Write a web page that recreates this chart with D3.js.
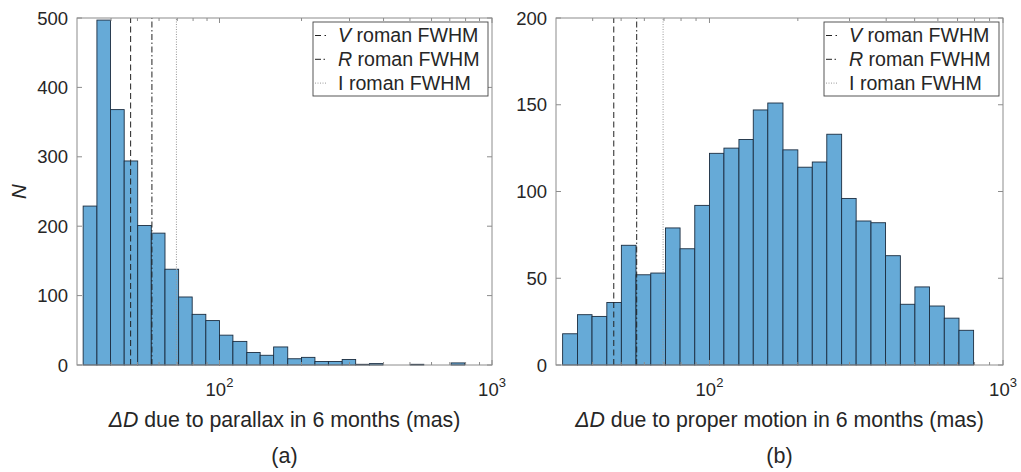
<!DOCTYPE html>
<html><head><meta charset="utf-8">
<script src="https://cdn.jsdelivr.net/npm/d3@7"></script>
<style>
body{margin:0;background:#fff}
text{font-family:"Liberation Sans",Arial,Helvetica,sans-serif;fill:#262626}
</style>
</head><body>
<svg id="c" width="1021" height="472"></svg>
<script>
// Histogram bin edges (mas), shared by both panels
const binEdges = [31.6, 35.5, 39.8, 44.7, 50.1, 56.2, 63.1, 70.8, 79.4, 89.1, 100,
  112, 126, 141, 158, 178, 200, 224, 251, 282, 316, 355, 398, 447, 501, 562, 631,
  708, 794, 891, 1000];
// Counts per bin
const parallaxCounts = [229, 497, 368, 294, 201, 190, 138, 98, 73, 64, 43, 34, 18, 14,
  26, 9, 11, 5, 5, 8, 1, 2, 0, 0, 1, 0, 0, 3, 0, 0];
const properMotionCounts = [18, 29, 28, 36, 69, 52, 53, 79, 67, 92, 122, 125, 130, 147,
  151, 124, 114, 117, 133, 96, 83, 82, 63, 35, 45, 34, 27, 20, 0, 0];
// Roman FWHM reference lines (mas)
const fwhmNames = ["V", "R", "I"];
const fwhmValues = [47.2, 56.5, 69.5];
// Axes ticks
const xDomain = [30, 1000];
const xMajorTicks = [100, 1000];
const xMajorLabels = ["2", "3"];
const xMinorTicks = [40, 50, 60, 70, 80, 90, 200, 300, 400, 500, 600, 700, 800, 900];
const leftYTicks = [0, 100, 200, 300, 400, 500];
const rightYTicks = [0, 50, 100, 150, 200];
const xLabels = ["due to parallax in 6 months (mas)", "due to proper motion in 6 months (mas)"];
const panelTags = ["(a)", "(b)"];

const svg = d3.select("#c");
const lineStyles = {
  V: {dash: "6,3.5", color: "#222"},
  R: {dash: "6,2.5,1.5,2.5", color: "#222"},
  I: {dash: "1,1.5", color: "#999"}
};

function panel(cfg) {
  const {x0, x1, y0, y1, counts, yTicks, yMax, xLabel, tag, showN} = cfg;
  const g = svg.append("g");
  const x = d3.scaleLog().domain(xDomain).range([x0, x1]);
  const y = d3.scaleLinear().domain([0, yMax]).range([y1, y0]);

  // bars
  g.selectAll("rect.bar").data(counts.map((c, i) => ({c, a: binEdges[i], b: binEdges[i + 1]})).filter(d => d.c > 0))
    .join("rect").attr("class", "bar")
    .attr("x", d => x(d.a)).attr("width", d => x(d.b) - x(d.a))
    .attr("y", d => y(d.c)).attr("height", d => y(0) - y(d.c))
    .attr("fill", "#66aad7").attr("stroke", "#1b2d40").attr("stroke-width", 0.9);

  // FWHM lines
  fwhmNames.forEach((n, i) => {
    g.append("line").attr("x1", x(fwhmValues[i])).attr("x2", x(fwhmValues[i]))
      .attr("y1", y(0)).attr("y2", y(yMax))
      .attr("stroke", lineStyles[n].color).attr("stroke-width", 1)
      .attr("stroke-dasharray", lineStyles[n].dash);
  });

  // axes box
  g.append("rect").attr("x", x0).attr("y", y0).attr("width", x1 - x0).attr("height", y1 - y0)
    .attr("fill", "none").attr("stroke", "#8c8c8c").attr("stroke-width", 1);

  const tickCol = "#8c8c8c";
  // y ticks (inward, both sides)
  yTicks.forEach(t => {
    const yy = y(t);
    g.append("line").attr("x1", x0).attr("x2", x0 + 5).attr("y1", yy).attr("y2", yy).attr("stroke", tickCol);
    g.append("line").attr("x1", x1).attr("x2", x1 - 5).attr("y1", yy).attr("y2", yy).attr("stroke", tickCol);
    g.append("text").attr("x", x0 - 9).attr("y", yy + 6.5).attr("text-anchor", "end")
      .attr("font-size", 18.5).text(t);
  });
  // x ticks
  xMajorTicks.forEach((t, i) => {
    const xx = x(t);
    g.append("line").attr("x1", xx).attr("x2", xx).attr("y1", y1).attr("y2", y1 - 5).attr("stroke", tickCol);
    g.append("line").attr("x1", xx).attr("x2", xx).attr("y1", y0).attr("y2", y0 + 5).attr("stroke", tickCol);
    const tx = g.append("text").attr("x", xx).attr("y", y1 + 31).attr("text-anchor", "middle").attr("font-size", 18.5);
    tx.append("tspan").text("10");
    tx.append("tspan").attr("dy", -9).attr("font-size", 13).text(xMajorLabels[i]);
  });
  xMinorTicks.forEach(t => {
    const xx = x(t);
    g.append("line").attr("x1", xx).attr("x2", xx).attr("y1", y1).attr("y2", y1 - 3).attr("stroke", tickCol);
    g.append("line").attr("x1", xx).attr("x2", xx).attr("y1", y0).attr("y2", y0 + 3).attr("stroke", tickCol);
  });

  // x label
  const cx = (x0 + x1) / 2;
  const xl = g.append("text").attr("x", cx).attr("y", y1 + 62).attr("text-anchor", "middle").attr("font-size", 21.3);
  xl.append("tspan").attr("font-style", "italic").text("\u0394D");
  xl.append("tspan").text(" " + xLabel);
  g.append("text").attr("x", cx).attr("y", y1 + 98).attr("text-anchor", "middle").attr("font-size", 21.5).text(tag);

  if (showN) {
    g.append("text").attr("transform", `translate(${x0 - 51},${(y0 + y1) / 2}) rotate(-90)`)
      .attr("text-anchor", "middle").attr("font-size", 20.5).attr("font-style", "italic").text("N");
  }

  // legend
  const lw = 175, lh = 74;
  const lx = x1 - 4 - lw, ly = y0 + 4;
  const lg = g.append("g");
  lg.append("rect").attr("x", lx).attr("y", ly).attr("width", lw).attr("height", lh)
    .attr("fill", "#fff").attr("stroke", "#444").attr("stroke-width", 0.9);
  fwhmNames.forEach((n, i) => {
    const cy = ly + 13.5 + i * 23.8;
    lg.append("line").attr("x1", lx + 2).attr("x2", lx + 13).attr("y1", cy).attr("y2", cy)
      .attr("stroke", lineStyles[n].color).attr("stroke-dasharray", lineStyles[n].dash);
    const t = lg.append("text").attr("x", lx + 25).attr("y", cy + 6.9).attr("font-size", 19.6).attr("fill", "#000");
    if (n === "I") {
      t.text("I roman FWHM");
    } else {
      t.append("tspan").attr("font-style", "italic").text(n);
      t.append("tspan").text(" roman FWHM");
    }
  });
}

panel({x0: 77, x1: 492, y0: 18, y1: 365, counts: parallaxCounts, yTicks: leftYTicks, yMax: 500,
  xLabel: xLabels[0], tag: panelTags[0], showN: true});
panel({x0: 556, x1: 1003, y0: 18, y1: 365, counts: properMotionCounts, yTicks: rightYTicks, yMax: 200,
  xLabel: xLabels[1], tag: panelTags[1], showN: false});
</script>
</body></html>
